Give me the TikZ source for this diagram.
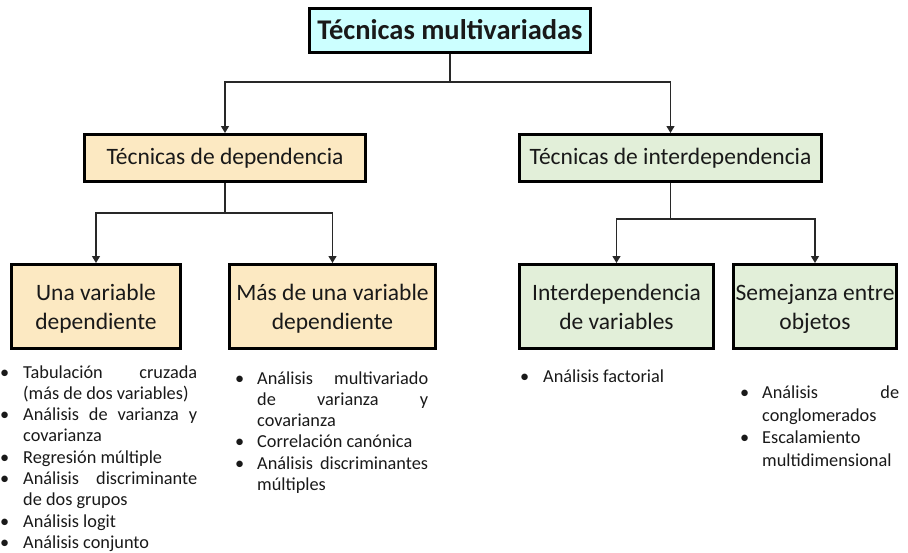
\documentclass[tikz,border=0pt]{standalone}
\usepackage{fontspec}
\setmainfont{Carlito}
\usepackage{enumitem}
\usetikzlibrary{arrows.meta}
\definecolor{topfill}{RGB}{204,255,255}
\definecolor{depfill}{RGB}{252,233,194}
\definecolor{intfill}{RGB}{226,239,217}
\definecolor{txt}{RGB}{25,25,25}
\definecolor{linecol}{RGB}{40,40,40}
\hyphenpenalty=10000
\exhyphenpenalty=10000
\tolerance=10000
\newcommand\upstrut{\rule{0pt}{26.3pt}}
\setlist[itemize]{itemsep=0pt,topsep=0pt,parsep=0pt,partopsep=0pt,label=\textbullet}
\begin{document}
\begin{tikzpicture}[x=1pt,y=-1pt,
  box/.style={draw=black,line width=3pt,inner sep=0pt,align=center,text=txt},
  topbox/.style={box,fill=topfill,minimum width=281pt,minimum height=44pt,font=\bfseries\fontsize{28.5}{32}\selectfont},
  lvltwo/.style={box,minimum height=47pt,font=\fontsize{23.5}{28}\selectfont},
  lvlthree/.style={box,minimum height=84pt,font=\fontsize{23.5}{29}\selectfont},
  listnode/.style={anchor=north west,inner sep=0pt,text=txt,align=justify,font=\fontsize{18.3}{21.3}\selectfont},
  conn/.style={draw=linecol,line width=1.3pt},
  arr/.style={conn,-{Triangle[width=8pt,length=7pt]}}]
\useasboundingbox (0,0) rectangle (908,552);
% boxes
\node[topbox] (top) at (450,30) {Técnicas multivariadas};
\node[lvltwo,fill=depfill,minimum width=281pt] (dep) at (225,158) {Técnicas de dependencia};
\node[lvltwo,fill=intfill,minimum width=302pt] (inter) at (670.5,158) {Técnicas de interdependencia};
\node[lvlthree,fill=depfill,minimum width=169pt] (una) at (96,306.5) {\upstrut Una variable\\dependiente\strut};
\node[lvlthree,fill=depfill,minimum width=206pt] (mas) at (332.5,306.5) {\upstrut Más de una variable\\dependiente\strut};
\node[lvlthree,fill=intfill,minimum width=194pt] (ivar) at (616.5,306.5) {\upstrut Interdependencia\\de variables\strut};
\node[lvlthree,fill=intfill,minimum width=163pt] (sem) at (815,306.5) {\upstrut Semejanza entre\\objetos\strut};
% connectors
\coordinate (j1) at (450,82);
\coordinate (j2) at (225,213);
\coordinate (j3) at (670.5,219);
\draw[conn] (top.south) -- (j1);
\draw[arr] (j1) -| (dep.north);
\draw[arr] (j1) -| (inter.north);
\draw[conn] (dep.south) -- (j2);
\draw[arr] (j2) -| (una.north);
\draw[arr] (j2) -| (mas.north);
\draw[conn] (inter.south) -- (j3);
\draw[arr] (j3) -| (ivar.north);
\draw[arr] (j3) -| (sem.north);
% lists
\node[listnode,text width=197pt] (l1) at (0,356.5) {%
\begin{itemize}[leftmargin=23pt,labelsep=14pt]
\item Tabulación cruzada (más de dos variables)
\item Análisis de varianza y covarianza
\item Regresión múltiple
\item Análisis discriminante de dos grupos
\item Análisis logit
\item Análisis conjunto
\end{itemize}};
\node[listnode,text width=196pt] (l2) at (232,362.5) {%
\begin{itemize}[leftmargin=25pt,labelsep=13pt]
\item Análisis multivariado de varianza y covarianza
\item Correlación canónica
\item Análisis discriminantes múltiples
\end{itemize}};
\node[listnode,text width=200pt] (l3) at (518,360.5) {%
\begin{itemize}[leftmargin=25pt,labelsep=14pt]
\item Análisis factorial
\end{itemize}};
\node[listnode,text width=159pt,font=\fontsize{18.3}{22.5}\selectfont] (l4) at (740,376) {%
\begin{itemize}[leftmargin=22pt,labelsep=13pt]
\item Análisis de conglomerados
\item Escalamiento multidimensional
\end{itemize}};
\end{tikzpicture}
\end{document}
